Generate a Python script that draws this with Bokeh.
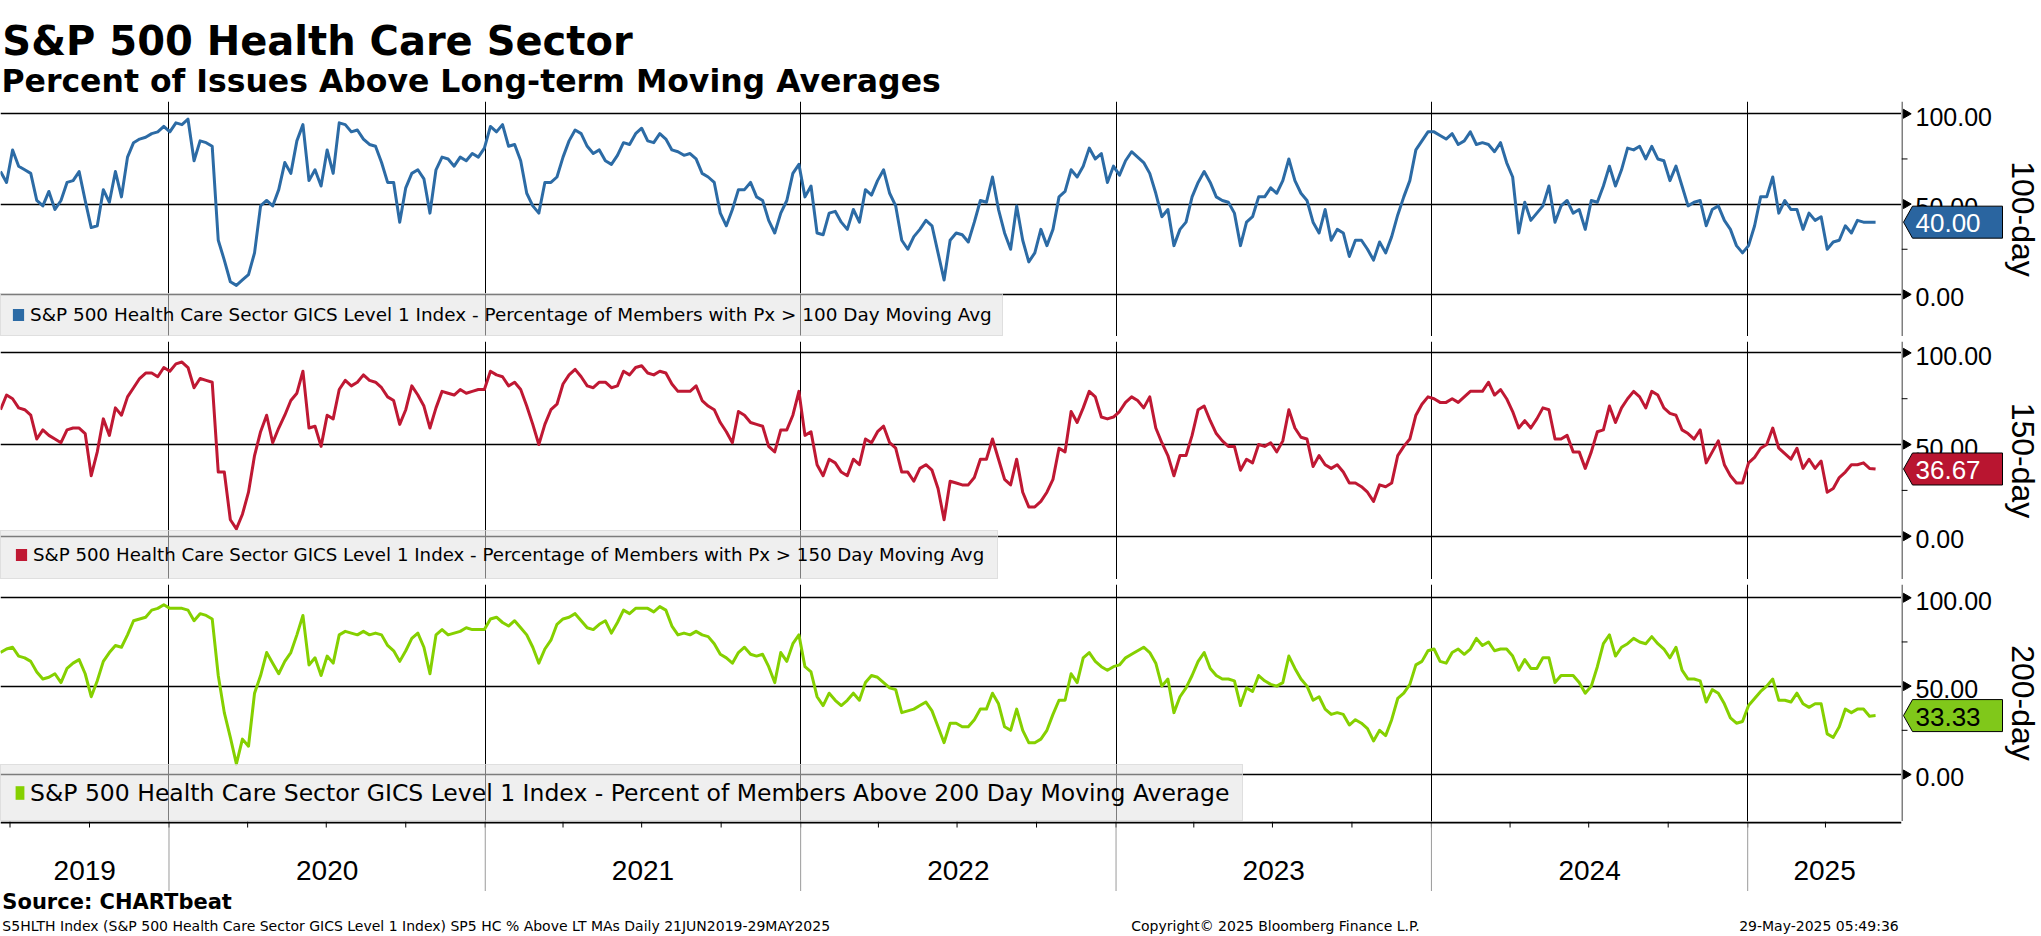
import math
import pandas as pd
from bokeh.plotting import figure
from bokeh.models import Range1d, FixedTicker, Grid, Legend, LegendItem, Label, Span
from bokeh.layouts import column, row
from bokeh.embed import file_html
from bokeh.resources import INLINE
from bokeh.core.properties import value

# ---------------- data (weekly readings, 20 Jun 2019 - 29 May 2025) ----------------
dates = pd.date_range(end="2025-05-29", periods=311, freq="7D")

pct_100 = [68,62,80,71,69,67,52,49,57,47,
           52,62,63,68,52,37,38,58,51,68,
           54,76,84,86,87,89,90,93,90,95,
           94,97,74,85,84,82,30,19,7,5,
           8,11,23,49,52,49,58,73,67,85,
           94,63,69,60,80,67,95,94,90,91,
           86,83,82,73,62,62,40,59,67,69,
           64,45,69,76,75,71,76,74,78,76,
           81,93,90,94,82,83,74,56,49,45,
           62,62,65,76,85,91,89,82,78,80,
           74,72,77,84,83,89,92,85,84,89,
           86,80,79,77,78,75,67,65,62,45,
           38,47,58,58,62,54,52,41,34,45,
           52,67,72,54,60,34,33,45,46,40,
           36,47,40,58,55,63,69,56,49,30,
           25,32,36,41,38,23,8,30,34,33,
           29,40,52,51,65,47,34,25,49,30,
           18,23,36,27,36,54,57,69,65,71,
           81,75,78,62,71,66,74,79,76,73,
           67,56,43,47,27,36,40,54,62,68,
           62,54,52,51,45,27,40,43,54,54,
           59,56,63,75,63,56,52,40,34,47,
           30,36,34,21,30,30,25,19,29,23,
           32,44,54,63,80,85,90,90,88,86,
           89,83,85,90,83,84,83,79,84,73,
           65,34,51,41,45,49,60,40,49,52,
           45,47,36,52,51,60,71,60,69,81,
           80,82,75,82,75,74,63,71,60,49,
           51,52,38,47,49,41,36,27,23,27,
           38,54,54,65,45,52,47,47,36,45,
           41,43,25,29,30,38,34,41,40,40,40.00]

pct_150 = [69,77,75,70,69,66,53,58,55,53,
           51,58,59,59,56,33,46,64,55,70,
           66,76,81,86,89,89,87,92,90,94,
           95,92,81,86,85,84,35,35,9,4,
           12,24,44,57,66,51,59,66,74,78,
           90,59,60,49,66,64,80,85,82,84,
           88,85,84,81,76,74,61,69,82,77,
           71,59,70,79,78,77,80,78,79,80,
           80,90,88,87,82,84,80,71,61,50,
           61,69,72,83,88,91,87,82,81,84,
           84,81,82,90,88,92,93,89,88,90,
           89,83,79,79,79,82,74,71,69,62,
           57,51,68,66,62,61,60,49,46,58,
           58,66,79,55,57,39,33,42,40,35,
           33,42,39,53,51,57,60,51,48,35,
           35,30,37,39,36,26,9,30,29,28,
           28,32,42,42,53,42,31,28,42,24,
           16,16,19,24,31,48,46,68,62,70,
           79,76,65,64,65,68,73,76,74,70,
           76,59,51,44,33,44,44,55,69,71,
           63,56,52,49,49,36,42,40,50,49,
           51,46,52,69,59,54,53,38,44,39,
           37,39,35,29,29,27,24,19,28,27,
           29,44,49,53,66,72,76,75,73,73,
           75,73,76,79,79,79,84,77,80,75,
           68,59,63,59,64,70,69,53,53,55,
           46,46,37,46,57,58,71,62,70,75,
           79,76,70,79,77,70,67,66,58,56,
           53,58,40,46,52,39,33,29,29,40,
           43,48,50,59,48,45,42,48,37,42,
           37,41,24,26,32,35,39,39,40,37,36.67]

pct_200 = [69,71,72,67,66,64,58,54,55,57,
           52,60,63,65,57,44,53,64,69,73,
           72,79,87,88,89,93,94,96,94,94,
           94,93,87,91,90,88,56,35,21,6,
           20,16,46,56,69,63,57,64,69,79,
           90,62,66,56,67,63,79,81,80,79,
           81,79,80,79,73,70,64,70,77,80,
           72,57,79,82,79,80,81,83,82,82,
           82,88,89,86,84,87,83,79,72,63,
           71,76,85,88,89,91,87,83,82,85,
           87,80,86,93,91,94,94,94,92,95,
           93,84,79,80,79,81,79,78,74,68,
           66,63,69,72,68,67,68,61,52,69,
           64,74,79,61,58,44,39,46,42,39,
           42,46,42,52,56,55,52,49,48,35,
           36,37,39,41,36,27,18,29,29,27,
           27,31,37,37,46,40,27,25,37,25,
           18,18,20,25,34,42,42,57,52,66,
           69,64,61,59,61,62,66,68,70,72,
           69,63,50,54,35,44,49,56,64,69,
           60,56,54,54,53,39,49,47,56,53,
           51,50,52,67,60,54,50,42,44,37,
           34,35,34,28,31,29,26,19,25,22,
           31,43,46,51,62,64,70,71,64,63,
           69,71,68,71,77,73,75,70,71,71,
           67,59,65,60,60,66,66,52,56,56,
           56,52,46,50,61,74,79,67,72,74,
           77,75,74,78,74,71,66,72,59,54,
           54,53,41,48,46,40,32,29,30,39,
           43,47,50,54,42,42,41,46,40,38,
           40,40,23,21,27,37,35,37,37,33,33.33]

years = [2019, 2020, 2021, 2022, 2023, 2024, 2025]
y_ticks = [0, 50, 100]
y_minor = [25, 75]
panel_names = ["100-day", "150-day", "200-day"]
legend_labels = [
    "S&P 500 Health Care Sector GICS Level 1 Index - Percentage of Members with Px > 100 Day Moving Avg",
    "S&P 500 Health Care Sector GICS Level 1 Index - Percentage of Members with Px > 150 Day Moving Avg",
    "S&P 500 Health Care Sector GICS Level 1 Index - Percent of Members Above 200 Day Moving Average",
]
title = "S&P 500 Health Care Sector"
subtitle = "Percent of Issues Above Long-term Moving Averages"
source = "Source: CHARTbeat"
foot_left = "S5HLTH Index (S&P 500 Health Care Sector GICS Level 1 Index) SP5 HC % Above LT MAs  Daily 21JUN2019-29MAY2025"
foot_mid = "Copyright\u00a9 2025 Bloomberg Finance L.P."
foot_right = "29-May-2025 05:49:36"

# ---------------- layout constants ----------------
W = 2041
FW = 1901          # plot frame width
SW = W - FW        # right scale strip width
NUM_FONT = "Liberation Sans"
TXT_FONT = "DejaVu Sans"


def ms(ts):
    return pd.Timestamp(ts).value / 1e6


x0_ms = ms("2019-06-20")
x1_ms = ms("2025-06-28")
xr = Range1d(start=x0_ms, end=x1_ms)
year_ms = [ms(f"{y}-01-01") for y in years[1:]]


def base_fig(w, h, x_range, y_range, right=0):
    p = figure(width=w, height=h, x_range=x_range, y_range=y_range,
               x_axis_location=None, y_axis_location=None,
               output_backend="svg", toolbar_location=None,
               min_border_left=0, min_border_right=right, min_border_top=0, min_border_bottom=0,
               outline_line_color=None, background_fill_color="white", border_fill_color="white")
    p.grid.visible = False
    return p


def make_panel(vals, color, tag_fill, tag_txt, ylo, yhi, h, label, leg_fs, leg_pad, lab_h,
               gw, gh, name):
    yr = Range1d(ylo, yhi)
    p = base_fig(FW, h, xr, yr)
    p.add_layout(Grid(dimension=0, ticker=FixedTicker(ticks=year_ms),
                      grid_line_color="black", grid_line_width=1))
    p.add_layout(Grid(dimension=1, ticker=FixedTicker(ticks=y_ticks),
                      grid_line_color="black", grid_line_width=1.3))
    p.line(dates, vals, line_color=color, line_width=3, line_join="round")
    # zero-area swatch used only as the legend's colour square
    q = p.quad(left=[x0_ms], right=[x0_ms], top=[0], bottom=[0],
               fill_color=color, line_color=None)
    leg = Legend(items=[LegendItem(label=label, renderers=[q])], location="bottom_left",
                 margin=0, padding=leg_pad, spacing=0, label_standoff=5,
                 glyph_width=gw, glyph_height=gh, label_height=lab_h,
                 label_text_font=TXT_FONT, label_text_font_size=leg_fs, label_text_color="black",
                 background_fill_color="#e2e2e2", background_fill_alpha=0.55,
                 border_line_color="#d4d4d4", border_line_alpha=0.6, border_line_width=1)
    p.add_layout(leg)

    # right-hand value scale (shares the panel's y scale)
    s = base_fig(SW, h, Range1d(0, SW), yr)
    s.add_layout(Span(location=0.5, dimension="height", line_color="black", line_width=1))
    s.scatter(x=[4.5] * len(y_ticks), y=y_ticks, marker="triangle", size=9,
              angle=-math.pi / 2, fill_color="black", line_color="black")
    s.segment(x0=[0] * len(y_minor), y0=y_minor, x1=[6] * len(y_minor), y1=y_minor,
              line_color="black", line_width=1)
    s.text(x=[14] * len(y_ticks), y=y_ticks, text=[f"{t:.2f}" for t in y_ticks],
           text_font=value(NUM_FONT), text_font_size="25px", text_color="black",
           text_align="left", text_baseline="middle", y_offset=3)
    s.text(x=[121], y=[(ylo + yhi) / 2], text=[name], angle=-math.pi / 2,
           text_font=value(NUM_FONT), text_font_size="32px", text_color="black",
           text_align="center", text_baseline="middle")
    # last-value tag
    last = vals[-1]
    hh = 16 / (h / (yhi - ylo))
    s.patch(x=[2, 11, 101, 101, 11], y=[last, last + hh, last + hh, last - hh, last - hh],
            fill_color=tag_fill, line_color="black", line_width=1)
    s.text(x=[14], y=[last], text=[f"{last:.2f}"], text_font=value(NUM_FONT),
           text_font_size="26px", text_color=tag_txt, text_align="left",
           text_baseline="middle", y_offset=1)
    return row(p, s, spacing=0)


def separator():
    s = base_fig(W, 5, Range1d(0, 1), Range1d(0, 1))
    s.background_fill_color = "#404040"
    s.border_fill_color = "#404040"
    return s


# ---------------- header ----------------
ph = base_fig(W, 101, Range1d(0, W), Range1d(0, 101))
ph.add_layout(Label(x=2, y=61, text=title, text_font=TXT_FONT, text_font_size="40px",
                    text_font_style="bold", text_color="black", text_baseline="alphabetic"))
ph.add_layout(Label(x=1, y=21, text=subtitle, text_font=TXT_FONT, text_font_size="31.5px",
                    text_font_style="bold", text_color="black", text_baseline="alphabetic"))

# ---------------- panels ----------------
r1 = make_panel(pct_100, "#2c6ba5", "#2a65a0", "white", -23.3, 106.8, 235,
                legend_labels[0], "18.4px", 10, 21, 14, 15, panel_names[0])
r2 = make_panel(pct_150, "#bf1833", "#b91530", "white", -23.6, 106.2, 238,
                legend_labels[1], "18.2px", 13, 21, 14, 15, panel_names[1])
r3 = make_panel(pct_200, "#85d000", "#80c81a", "black", -26.6, 107.5, 237,
                legend_labels[2], "23.5px", 13, 29, 11, 17, panel_names[2])

# ---------------- time axis strip ----------------
pa = base_fig(W, 70, xr, Range1d(0, 70), right=SW)
q_ms = [ms(d) for d in pd.date_range("2019-07-01", "2025-04-01", freq="QS")]
pa.segment(x0=q_ms, y0=[70] * len(q_ms), x1=q_ms, y1=[64] * len(q_ms),
           line_color="black", line_width=1)
pa.segment(x0=year_ms, y0=[70] * len(year_ms), x1=year_ms, y1=[0] * len(year_ms),
           line_color="#9a9a9a", line_width=1)
pa.add_layout(Span(location=69, dimension="width", line_color="black", line_width=2))
mids = []
for y in years:
    a = max(ms(f"{y}-01-01"), x0_ms)
    b = min(ms(f"{y + 1}-01-01"), x1_ms)
    mids.append((a + b) / 2)
pa.text(x=mids, y=[21.5] * len(mids), text=[str(y) for y in years],
        text_font=value(NUM_FONT), text_font_size="28px", text_color="black",
        text_align="center", text_baseline="middle")

# ---------------- footer ----------------
pf = base_fig(W, 44, Range1d(0, W), Range1d(0, 44))
pf.add_layout(Label(x=2, y=34, text=source, text_font=TXT_FONT, text_font_size="21px",
                    text_font_style="bold", text_color="black", text_baseline="middle"))
pf.add_layout(Label(x=2, y=10, text=foot_left, text_font=TXT_FONT, text_font_size="14px",
                    text_color="black", text_baseline="middle"))
pf.add_layout(Label(x=1214, y=10, text=foot_mid, text_font=TXT_FONT, text_font_size="14px",
                    text_color="black", text_baseline="middle"))
pf.add_layout(Label(x=W - 3, y=10, text=foot_right, text_font=TXT_FONT, text_font_size="14px",
                    text_color="black", text_baseline="middle", text_align="right"))

layout = column(ph, r1, separator(), r2, separator(), r3, pa, pf, spacing=0)

open("out.html", "w").write(file_html(layout, INLINE))
